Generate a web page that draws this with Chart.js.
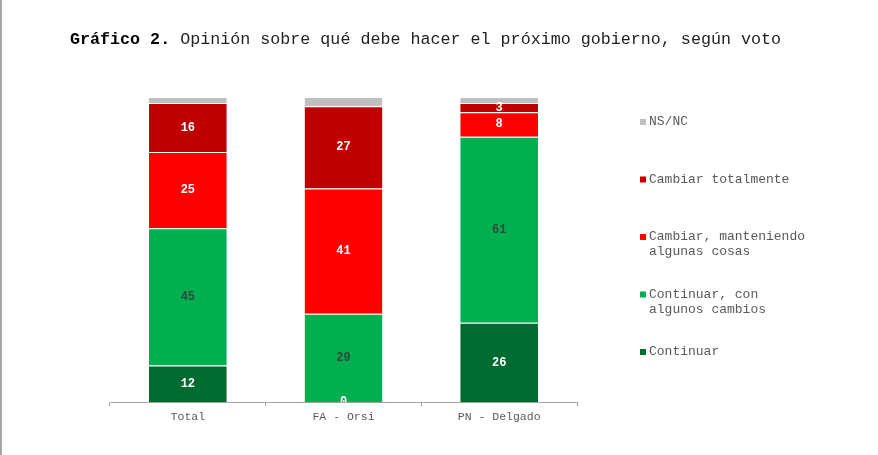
<!DOCTYPE html>
<html>
<head>
<meta charset="utf-8">
<script src="https://cdn.jsdelivr.net/npm/chart.js@4.4.0/dist/chart.umd.min.js"></script>
<style>
  html, body { margin: 0; padding: 0; background: #ffffff; }
  #wrap { width: 878px; height: 455px; position: relative; }
</style>
</head>
<body>
<div id="wrap"><canvas id="c" width="878" height="455"></canvas></div>
<script>
// ---- data ----
const categories = ["Total", "FA - Orsi", "PN - Delgado"];
const seriesNames = ["Continuar", "Continuar, con algunos cambios", "Cambiar, manteniendo algunas cosas", "Cambiar totalmente", "NS/NC"];
const legendLines = [["Continuar"], ["Continuar, con", "algunos cambios"], ["Cambiar, manteniendo", "algunas cosas"], ["Cambiar totalmente"], ["NS/NC"]];
const continuar = [12, 0, 26];
const continuarConCambios = [45, 29, 61];
const cambiarManteniendo = [25, 41, 8];
const cambiarTotalmente = [16, 27, 3];
const nsnc = [2, 3, 2];
const titleBold = "Gráfico 2.";
const titleRest = " Opinión sobre qué debe hacer el próximo gobierno, según voto";

const colors = ["#006b31", "#00b050", "#ff0000", "#c00000", "#bfbfbf"];
const labelColors = ["#ffffff", "#2e4a3c", "#ffffff", "#ffffff", null];
const seriesValues = [continuar, continuarConCambios, cambiarManteniendo, cambiarTotalmente, nsnc];

const MONO = "'Liberation Mono', 'Courier New', monospace";

const framePlugin = {
  id: 'frame',
  beforeDraw(chart) {
    const ctx = chart.ctx;
    ctx.save();
    ctx.fillStyle = '#ffffff';
    ctx.fillRect(0, 0, chart.width, chart.height);
    ctx.fillStyle = '#a6a6a6';
    ctx.fillRect(0, 0, 2, chart.height);
    // title
    ctx.textBaseline = 'alphabetic';
    ctx.textAlign = 'left';
    ctx.fillStyle = '#000000';
    ctx.font = "bold 16.7px " + MONO;
    ctx.fillText(titleBold, 70, 44);
    const w = ctx.measureText(titleBold).width;
    ctx.font = "16.7px " + MONO;
    ctx.fillStyle = '#222222';
    ctx.fillText(titleRest, 70 + w, 44);
    ctx.restore();
  }
};

const valueLabelPlugin = {
  id: 'valueLabels',
  afterDatasetsDraw(chart) {
    const ctx = chart.ctx;
    const area = chart.chartArea;
    ctx.save();
    ctx.beginPath();
    ctx.rect(area.left, area.top, area.right - area.left, area.bottom - area.top);
    ctx.clip();
    ctx.font = "bold 12px " + MONO;
    ctx.textAlign = 'center';
    ctx.textBaseline = 'middle';
    chart.data.datasets.forEach((ds, di) => {
      if (!labelColors[di]) return;
      const meta = chart.getDatasetMeta(di);
      meta.data.forEach((el, i) => {
        const v = ds.data[i];
        const yMid = (el.y + el.base) / 2;
        ctx.fillStyle = labelColors[di];
        ctx.fillText(String(v), el.x, yMid);
      });
    });
    ctx.restore();
  }
};

const legendPlugin = {
  id: 'customLegend',
  afterDraw(chart) {
    const ctx = chart.ctx;
    const area = chart.chartArea;
    const x0 = area.right + 63;
    const yStart = area.top + 25;
    const step = 57.5;
    ctx.save();
    ctx.font = "13px " + MONO;
    ctx.textAlign = 'left';
    ctx.textBaseline = 'middle';
    const n = chart.data.datasets.length;
    for (let k = 0; k < n; k++) {
      const di = n - 1 - k;
      const y = yStart + k * step;
      ctx.fillStyle = colors[di];
      ctx.fillRect(x0, y - 3, 6, 6);
      ctx.fillStyle = '#595959';
      legendLines[di].forEach((line, li) => {
        ctx.fillText(line, x0 + 9, y + li * 15);
      });
    }
    ctx.restore();
  }
};

const datasets = seriesNames.map((name, i) => ({
  label: name,
  data: seriesValues[i],
  backgroundColor: colors[i],
  borderColor: '#ffffff',
  borderWidth: { top: 1, bottom: 0, left: 0, right: 0 },
  borderSkipped: false,
  categoryPercentage: 1.0,
  barPercentage: 0.5
}));

new Chart(document.getElementById('c'), {
  type: 'bar',
  data: { labels: categories, datasets },
  options: {
    responsive: false,
    animation: false,
    devicePixelRatio: 1,
    layout: { padding: { left: 110, right: 301, top: 97, bottom: 27 } },
    plugins: {
      legend: { display: false },
      title: { display: false },
      tooltip: { enabled: false }
    },
    scales: {
      x: {
        stacked: true,
        offset: true,
        grid: { display: true, drawOnChartArea: false, drawTicks: true, tickLength: 4, color: '#a6a6a6', offset: true },
        border: { display: true, color: '#a6a6a6', width: 1 },
        ticks: { color: '#595959', font: { family: MONO, size: 11.5 }, padding: 4 }
      },
      y: {
        stacked: true,
        display: false,
        min: 0,
        max: 100
      }
    }
  },
  plugins: [framePlugin, valueLabelPlugin, legendPlugin]
});
</script>
</body>
</html>
